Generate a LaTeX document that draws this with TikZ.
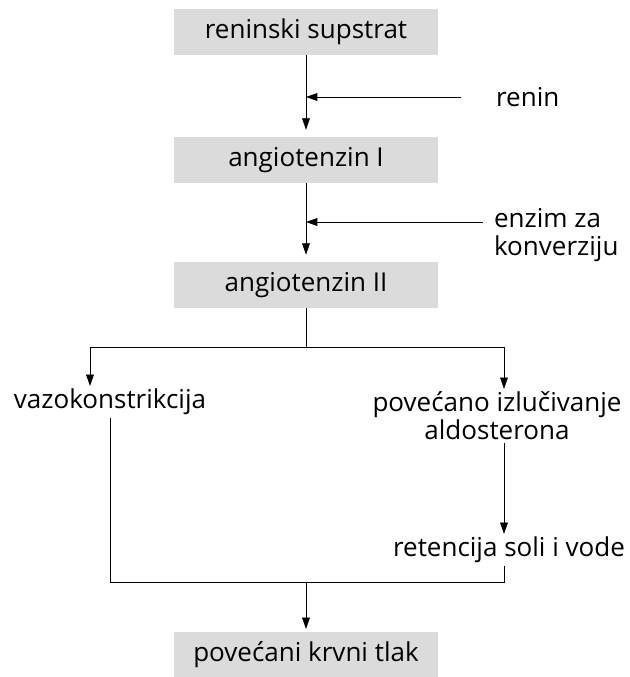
\documentclass[tikz,border=0pt]{standalone}
\usepackage{fontspec}
\setmainfont{Open Sans}
\usetikzlibrary{arrows.meta,positioning}
\tikzset{
    %Define standard arrow tip
    >={Triangle[length=8pt,width=5.5pt]},
    line width=0.9pt,
    okvir/.style={
      rectangle,
      fill=black!14,
      minimum width=6.6cm,
      minimum height=1.15cm,
      font=\fontsize{18.5}{20}\selectfont,
      text centered},
    tekst/.style={
      font=\fontsize{18.5}{20}\selectfont,
      inner sep=2pt},
}

\begin{document}
\begin{tikzpicture}[x=0.025cm,y=-0.025cm]
    \useasboundingbox (0,0) rectangle (630,677);
    % glavni lanac
    \node (sup) [okvir] at (306,32) {reninski supstrat};
    \node (ang1) [okvir] at (306,160) {angiotenzin I};
    \node (ang2) [okvir] at (306,285) {angiotenzin II};
    \node (tlak) [okvir] at (306,655) {povećani krvni tlak};
    % enzimi
    \node (renin) [tekst, anchor=west] at (493,97) {renin};
    \node (enzim) [tekst, anchor=west, align=left] at (491,235)
          {enzim za\\konverziju};
    \coordinate (j1) at (306,97);
    \coordinate (j2) at (306,222);
    \draw[->, shorten >=5pt] (sup) -- (ang1);
    \draw[->, shorten >=5pt] (ang1) -- (ang2);
    \draw[->, shorten <=0.8cm] (renin.west) -- (j1);
    \draw[->] ([xshift=-0.2cm]enzim.west |- j2) -- (j2);
    % grananje
    \node (vazo) [tekst] at (110,402) {vazokonstrikcija};
    \node (aldo) [tekst, align=center] at (497,416)
          {povećano izlučivanje\\aldosterona};
    \node (ret) [tekst] at (509,550) {retencija soli i vode};
    \coordinate (g0) at (306,347);
    \coordinate (gl) at (90,347);
    \coordinate (gd) at (504,347);
    \draw (ang2) -- (g0);
    \draw (gl) -- (gd);
    \draw[->] (gl) -- (gl |- vazo.north);
    \draw[->] (gd) -- (gd |- aldo.north);
    \draw[->] (gd |- aldo.south) -- (gd |- ret.north);
    % spajanje
    \coordinate (s0) at (306,582);
    \coordinate (sd) at (504,582);
    \draw (vazo.south) |- (sd) -- (sd |- ret.south);
    \draw[->, shorten >=2pt] (s0) -- (tlak);
\end{tikzpicture}
\end{document}
